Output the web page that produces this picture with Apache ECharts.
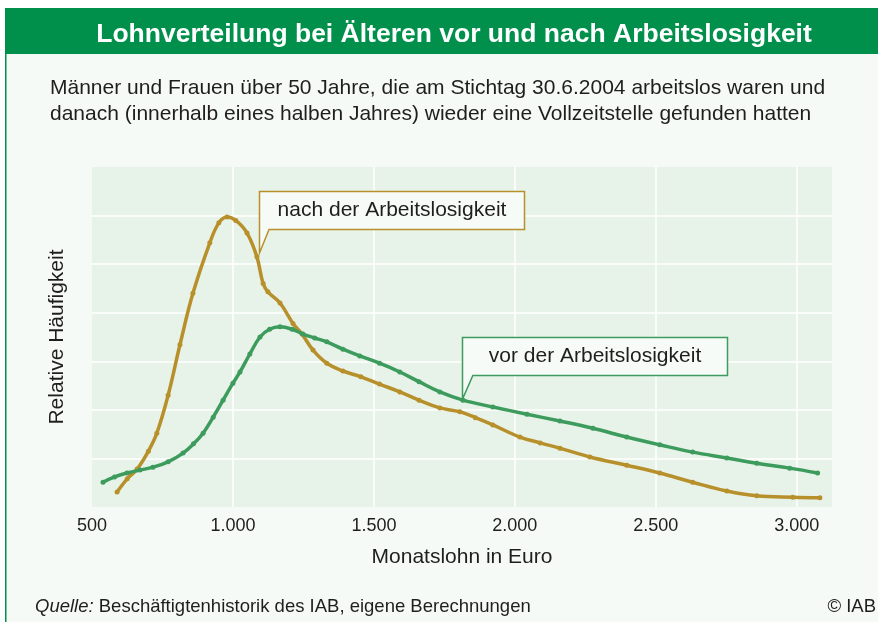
<!DOCTYPE html>
<html>
<head>
<meta charset="utf-8">
<script src="https://cdn.jsdelivr.net/npm/echarts@6/dist/echarts.min.js"></script>
<style>
html,body{margin:0;padding:0;background:#ffffff;}
#chart{width:878px;height:622px;}
</style>
</head>
<body>
<div id="chart"></div>
<script>
// ---- data ----
const xTicks = [500, 1000, 1500, 2000, 2500, 3000];
const nachX = [589, 625, 660, 700, 730, 770, 812, 858, 918, 950, 979, 1010, 1050, 1085, 1107, 1124, 1167, 1213, 1245, 1284, 1333, 1390, 1454, 1520, 1592, 1660, 1734, 1805, 1860, 1922, 2018, 2090, 2160, 2266, 2397, 2514, 2631, 2752, 2858, 2986, 3082];
const nachY = [0.31, 0.58, 0.78, 1.15, 1.52, 2.3, 3.34, 4.4, 5.44, 5.85, 5.97, 5.9, 5.64, 5.15, 4.6, 4.43, 4.2, 3.78, 3.56, 3.23, 2.96, 2.8, 2.68, 2.53, 2.37, 2.2, 2.04, 1.96, 1.84, 1.69, 1.44, 1.32, 1.21, 1.03, 0.86, 0.70, 0.51, 0.33, 0.23, 0.20, 0.19];
const vorX = [539, 580, 624, 670, 716, 770, 823, 860, 894, 930, 965, 1000, 1025, 1060, 1096, 1130, 1167, 1210, 1248, 1290, 1333, 1390, 1450, 1520, 1592, 1660, 1734, 1816, 1922, 2043, 2160, 2277, 2397, 2514, 2631, 2752, 2858, 2975, 3074];
const vorY = [0.51, 0.62, 0.70, 0.76, 0.82, 0.93, 1.11, 1.30, 1.52, 1.85, 2.2, 2.55, 2.78, 3.15, 3.5, 3.66, 3.71, 3.66, 3.56, 3.48, 3.40, 3.25, 3.11, 2.96, 2.78, 2.58, 2.37, 2.2, 2.06, 1.91, 1.77, 1.62, 1.44, 1.28, 1.13, 1.01, 0.90, 0.80, 0.70];
const seriesNames = ['nach der Arbeitslosigkeit', 'vor der Arbeitslosigkeit'];

const GOLD = '#b8902b';
const GREEN = '#3c9b5d';
const FONT = '"Liberation Sans", Arial, sans-serif';
const INK = '#1e1e1e';

function pairs(xs, ys) { return xs.map((x, i) => [x, ys[i]]); }
function fmt(v) { return String(v).replace(/\B(?=(\d{3})+(?!\d))/g, '.'); }

const chart = echarts.init(document.getElementById('chart'), null, {renderer: 'canvas'});

const option = {
  backgroundColor: '#ffffff',
  animation: false,
  textStyle: {fontFamily: FONT},
  title: [
    {text: 'Lohnverteilung bei Älteren vor und nach Arbeitslosigkeit', left: 449, top: 16, textAlign: 'center',
     textStyle: {color: '#ffffff', fontSize: 26.5, fontWeight: 'bold', fontFamily: FONT}},
    {text: 'Männer und Frauen über 50 Jahre, die am Stichtag 30.6.2004 arbeitslos waren und\ndanach (innerhalb eines halben Jahres) wieder eine Vollzeitstelle gefunden hatten',
     left: 45, top: 70, textStyle: {color: INK, fontSize: 21, fontWeight: 'normal', lineHeight: 26, fontFamily: FONT}},
    {text: '{i|Quelle:} Beschäftigtenhistorik des IAB, eigene Berechnungen', left: 30, top: 592,
     textStyle: {rich: {i: {fontStyle: 'italic', fontSize: 18.5, color: INK, fontFamily: FONT}}, fontSize: 18.5, color: INK, fontWeight: 'normal', fontFamily: FONT}},
    {text: '© IAB', right: -3, top: 592, textStyle: {fontSize: 18.5, color: INK, fontWeight: 'normal', fontFamily: FONT}}
  ],
  grid: {left: 92, right: 46, top: 167, bottom: 115, show: true, backgroundColor: '#e7f3e8', borderWidth: 0},
  xAxis: {
    type: 'value', min: 500, max: 3125, interval: 500,
    name: 'Monatslohn in Euro', nameLocation: 'middle', nameGap: 40,
    nameTextStyle: {fontSize: 21, color: INK, fontFamily: FONT},
    axisLine: {show: false}, axisTick: {show: false},
    axisLabel: {margin: 10, fontSize: 18, color: INK, fontFamily: FONT,
      showMaxLabel: false,
      formatter: v => (xTicks.indexOf(v) >= 0 ? fmt(v) : '')},
    splitLine: {show: true, showMinLine: false, showMaxLine: false, lineStyle: {color: '#ffffff', width: 1.5}}
  },
  yAxis: {
    type: 'value', min: 0, max: 7, interval: 1,
    name: 'Relative Häufigkeit', nameLocation: 'middle', nameGap: 24, nameRotate: 90,
    nameTextStyle: {fontSize: 21, color: INK, fontFamily: FONT},
    axisLine: {show: false}, axisTick: {show: false}, axisLabel: {show: false},
    splitLine: {show: true, showMinLine: false, showMaxLine: false, lineStyle: {color: '#ffffff', width: 1.5}}
  },
  series: [
    {name: seriesNames[0], type: 'line', smooth: 0.4, data: pairs(nachX, nachY),
     symbol: 'circle', symbolSize: 5, showSymbol: true,
     itemStyle: {color: GOLD}, lineStyle: {color: GOLD, width: 3.5}, z: 3},
    {name: seriesNames[1], type: 'line', smooth: 0.4, data: pairs(vorX, vorY),
     symbol: 'circle', symbolSize: 5, showSymbol: true,
     itemStyle: {color: GREEN}, lineStyle: {color: GREEN, width: 3.5}, z: 4}
  ]
};
chart.setOption(option);

// ---- frame, header and callouts ----
function px(x, y) { return chart.convertToPixel({gridIndex: 0}, [x, y]); }
function callout(label, color, x0, x1, yTop, yBot, tipY, baseX) {
  const tl = px(x0, yTop), br = px(x1, yBot), tip = px(x0, tipY), base = px(baseX, yBot);
  const L = Math.round(tl[0]) + 0.5, T = Math.round(tl[1]) + 0.5, R = Math.round(br[0]) + 0.5, B = Math.round(br[1]) + 0.5;
  return [
    {type: 'polygon', z: 50, shape: {points: [[L, T], [R, T], [R, B], [base[0], B], [L, tip[1]]]},
     style: {fill: '#f7fbf8', stroke: color, lineWidth: 1.5}},
    {type: 'text', z: 51, x: (L + R) / 2, y: (T + B) / 2,
     style: {text: label, fill: INK, font: '21px ' + FONT, align: 'center', verticalAlign: 'middle'}}
  ];
}
const graphics = [
  {type: 'rect', z: -10, shape: {x: 5, y: 8, width: 873, height: 614}, style: {fill: '#f5faf6'}},
  {type: 'rect', z: -9, shape: {x: 5, y: 8, width: 873, height: 46}, style: {fill: '#00904c'}},
  {type: 'rect', z: -9, shape: {x: 5, y: 8, width: 1.5, height: 614}, style: {fill: '#00904c'}}
].concat(
  callout(seriesNames[0], GOLD, 1092, 2032, 6.5, 5.72, 5.23, 1128),
  callout(seriesNames[1], GREEN, 1812, 2752, 3.5, 2.72, 2.22, 1851)
);
chart.setOption({graphic: graphics});
</script>
</body>
</html>
